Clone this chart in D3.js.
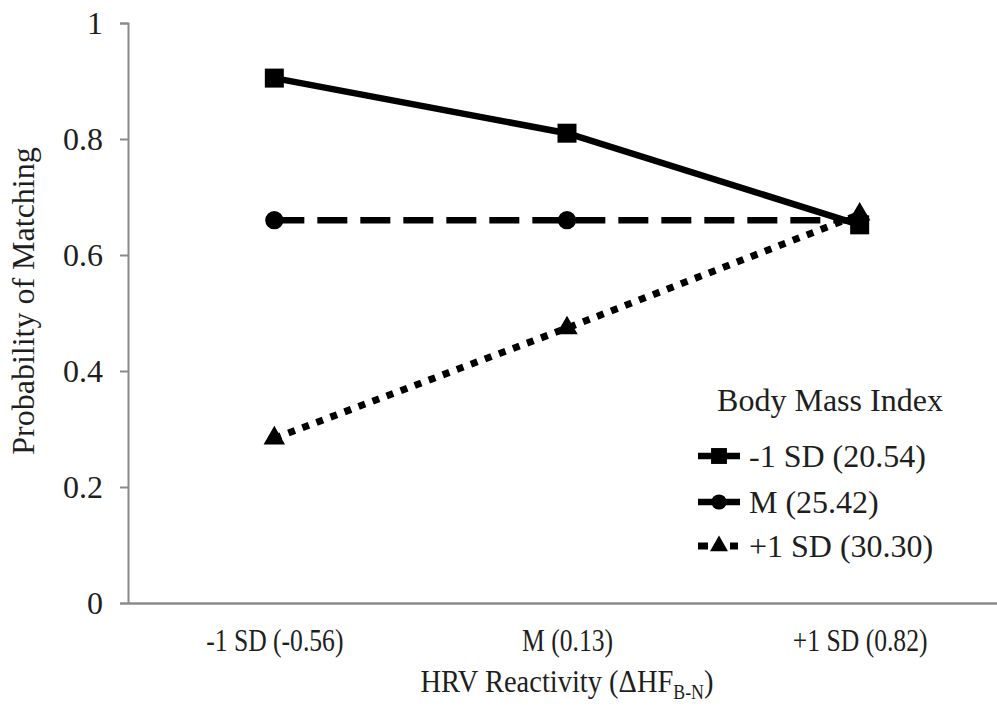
<!DOCTYPE html>
<html>
<head>
<meta charset="utf-8">
<script src="https://cdn.jsdelivr.net/npm/d3@7"></script>
<style>
  html, body { margin: 0; padding: 0; background: #fff; }
  svg { display: block; }
</style>
</head>
<body>
<svg id="chart" width="997" height="709"></svg>
<script>
// HRV reactivity levels on the x axis
const categories = ["-1 SD (-0.56)", "M (0.13)", "+1 SD (0.82)"];
// Probability of matching for each BMI level
const lowBMI = [0.905, 0.810, 0.652];
const meanBMI = [0.660, 0.660, 0.660];
const highBMI = [0.284, 0.474, 0.670];
const seriesNames = ["-1 SD (20.54)", "M (25.42)", "+1 SD (30.30)"];
const yTicks = [0, 0.2, 0.4, 0.6, 0.8, 1];

const FONT = "Liberation Serif";
const FS = "32px";
const textColor = "#1e1e1e";
const axisColor = "#8a8a8a";

const svg = d3.select("#chart");
const plotLeft = 128, plotRight = 1006, plotTop = 23, plotBottom = 603;

const x = d3.scalePoint().domain(categories).range([plotLeft, plotRight]).padding(0.5);
const y = d3.scaleLinear().domain([0, 1]).range([plotBottom, plotTop]);

function styleText(sel, size) {
  return sel.style("font-family", FONT).style("font-size", size || FS).attr("fill", textColor);
}
// narrow a text element horizontally by the given factor
function condense(sel, factor) {
  sel.each(function () {
    const w = this.getComputedTextLength();
    d3.select(this).attr("textLength", w * factor).attr("lengthAdjust", "spacingAndGlyphs");
  });
  return sel;
}

// y axis
const yAxis = svg.append("g")
  .attr("transform", `translate(${plotLeft},0)`)
  .call(d3.axisLeft(y).tickValues(yTicks).tickSize(8).tickPadding(17)
    .tickFormat(d => d === 0 || d === 1 ? String(d) : d3.format(".1f")(d)));
yAxis.select(".domain").attr("stroke", axisColor).attr("stroke-width", 2);
yAxis.selectAll(".tick line").attr("stroke", axisColor).attr("stroke-width", 2);
styleText(yAxis.selectAll(".tick text"));

// x axis
const xAxis = svg.append("g")
  .attr("transform", `translate(0,${plotBottom})`)
  .call(d3.axisBottom(x).tickSize(0).tickPadding(25));
xAxis.select(".domain").attr("stroke", axisColor).attr("stroke-width", 2.5);
condense(styleText(xAxis.selectAll(".tick text")), 0.8);

// axis titles
styleText(svg.append("text")
  .attr("transform", `translate(34,${(plotTop + plotBottom) / 2 - 12}) rotate(-90)`)
  .attr("text-anchor", "middle"))
  .text("Probability of Matching");

// x title, slightly narrowed, with a subscript
const xt = styleText(svg.append("text")
  .attr("transform", "translate(567,692) scale(0.89,1)")
  .attr("text-anchor", "middle"));
xt.append("tspan").text("HRV Reactivity (\u0394HF");
xt.append("tspan").attr("dy", 7).style("font-size", "20px").text("B-N");
xt.append("tspan").attr("dy", -7).text(")");

const series = [
  { name: seriesNames[0], values: lowBMI, dash: null, width: 6.5, symbol: d3.symbolSquare, size: 361, legendDash: null },
  { name: seriesNames[1], values: meanBMI, dash: "30,13", width: 6.5, symbol: d3.symbolCircle, size: 260, legendDash: null },
  { name: seriesNames[2], values: highBMI, dash: "7,8", width: 7, symbol: d3.symbolTriangle, size: 200, legendDash: "10,22,8" }
];

const line = d3.line().x((d, i) => x(categories[i])).y(d => y(d));

// draw order: dashed mean line, dotted high line, solid low line on top
const order = [series[1], series[2], series[0]];
order.forEach(s => {
  svg.append("path")
    .attr("d", line(s.values))
    .attr("fill", "none")
    .attr("stroke", "#000")
    .attr("stroke-width", s.width)
    .attr("stroke-dasharray", s.dash);
});
order.forEach(s => {
  svg.append("g").selectAll("path")
    .data(s.values)
    .join("path")
    .attr("transform", (d, i) => `translate(${x(categories[i])},${y(d)})`)
    .attr("d", d3.symbol().type(s.symbol).size(s.size))
    .attr("fill", "#000");
});

// legend
const lg = svg.append("g");
styleText(lg.append("text").attr("x", 830).attr("y", 411).attr("text-anchor", "middle"))
  .text("Body Mass Index");
const legendY = [456, 502, 546];
series.forEach((s, i) => {
  const yy = legendY[i];
  lg.append("line").attr("x1", 698).attr("x2", 740).attr("y1", yy).attr("y2", yy)
    .attr("stroke", "#000").attr("stroke-width", s.width)
    .attr("stroke-dasharray", s.legendDash);
  lg.append("path").attr("transform", `translate(719,${yy})`)
    .attr("d", d3.symbol().type(s.symbol).size(s.size * 0.7)).attr("fill", "#000");
  styleText(lg.append("text").attr("x", 749).attr("y", yy + 11))
    .text(s.name);
});
</script>
</body>
</html>
